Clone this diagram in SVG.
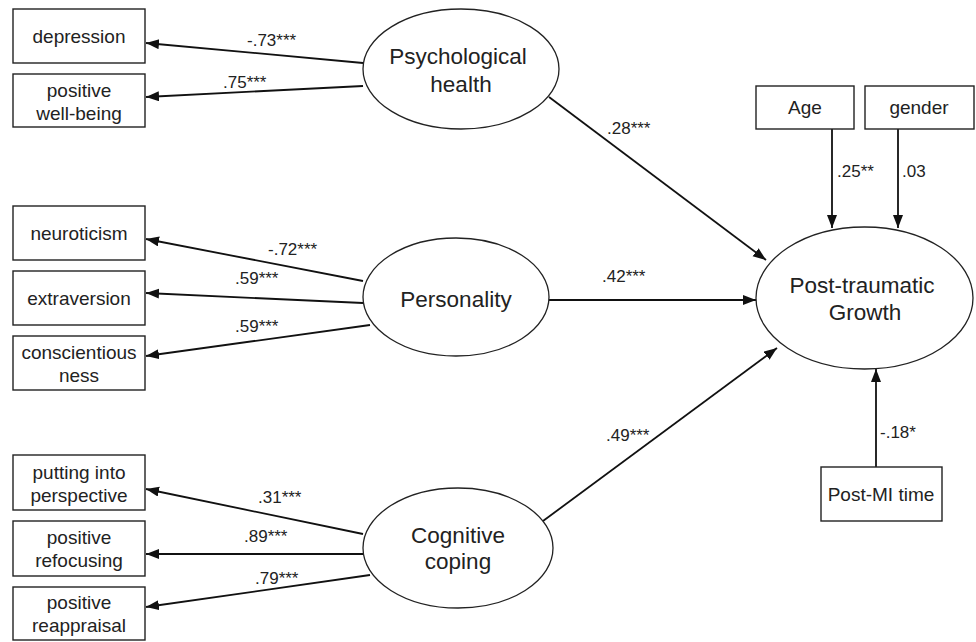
<svg xmlns="http://www.w3.org/2000/svg" width="976" height="642" viewBox="0 0 976 642">
<defs>
<marker id="ah" markerUnits="userSpaceOnUse" markerWidth="14" markerHeight="12" refX="13" refY="5" orient="auto">
<path d="M0,0 L13,5 L0,10 Z" fill="#111"/>
</marker>
<style>
.box{fill:#fff;stroke:#222;stroke-width:1.4}
.ell{fill:#fff;stroke:#222;stroke-width:1.3}
.t{font-family:"Liberation Sans",Arial,sans-serif;font-size:19px;fill:#222;text-anchor:middle}
.big{font-family:"Liberation Sans",Arial,sans-serif;font-size:22.5px;fill:#222;text-anchor:middle}
.lab{font-family:"Liberation Sans",Arial,sans-serif;font-size:17px;fill:#222}
.c{stroke:#111;stroke-width:1.8;fill:none;marker-end:url(#ah)}
</style>
</defs>
<rect width="976" height="642" fill="#fff"/>
<g id="connectors">
<line class="c" x1="363" y1="63" x2="146" y2="43"/>
<line class="c" x1="363" y1="86" x2="146" y2="97"/>
<line class="c" x1="363" y1="281" x2="146" y2="239"/>
<line class="c" x1="363" y1="303" x2="146" y2="293"/>
<line class="c" x1="370" y1="325" x2="146" y2="356"/>
<line class="c" x1="363" y1="534" x2="146" y2="489"/>
<line class="c" x1="363" y1="554" x2="146" y2="554"/>
<line class="c" x1="370" y1="575" x2="146" y2="607"/>
<line class="c" x1="549" y1="97" x2="766" y2="260"/>
<line class="c" x1="549" y1="300" x2="756" y2="300"/>
<line class="c" x1="543" y1="521" x2="777" y2="348"/>
<line class="c" x1="832" y1="129" x2="832" y2="228"/>
<line class="c" x1="898" y1="129" x2="898" y2="228"/>
<line class="c" x1="876" y1="467" x2="876" y2="369"/>
<text class="lab" x="247" y="46">-.73***</text>
<text class="lab" x="223" y="88">.75***</text>
<text class="lab" x="268" y="255">-.72***</text>
<text class="lab" x="235" y="284">.59***</text>
<text class="lab" x="235" y="332">.59***</text>
<text class="lab" x="258" y="503">.31***</text>
<text class="lab" x="244" y="542">.89***</text>
<text class="lab" x="255" y="584">.79***</text>
<text class="lab" x="607" y="134">.28***</text>
<text class="lab" x="602" y="282">.42***</text>
<text class="lab" x="606" y="441">.49***</text>
<text class="lab" x="837" y="177">.25**</text>
<text class="lab" x="902" y="177">.03</text>
<text class="lab" x="880" y="438">-.18*</text>
</g>
<g id="depression"><rect class="box" x="13" y="9" width="132" height="54"/><text class="t" x="79" y="43">depression</text></g>
<g id="wellbeing"><rect class="box" x="13" y="74" width="132" height="53"/><text class="t" x="79" y="97">positive</text><text class="t" x="79" y="120">well-being</text></g>
<g id="neuroticism"><rect class="box" x="13" y="206" width="132" height="54"/><text class="t" x="79" y="240">neuroticism</text></g>
<g id="extraversion"><rect class="box" x="13" y="271" width="132" height="54"/><text class="t" x="79" y="305">extraversion</text></g>
<g id="conscientiousness"><rect class="box" x="13" y="336" width="132" height="54"/><text class="t" x="79" y="359">conscientious</text><text class="t" x="79" y="382">ness</text></g>
<g id="perspective"><rect class="box" x="13" y="455" width="132" height="55"/><text class="t" x="79" y="479">putting into</text><text class="t" x="79" y="502">perspective</text></g>
<g id="refocusing"><rect class="box" x="13" y="521" width="132" height="55"/><text class="t" x="79" y="544">positive</text><text class="t" x="79" y="567">refocusing</text></g>
<g id="reappraisal"><rect class="box" x="13" y="587" width="132" height="53"/><text class="t" x="79" y="609">positive</text><text class="t" x="79" y="632">reappraisal</text></g>
<g id="psych"><ellipse class="ell" cx="461" cy="69" rx="98" ry="60"/><text class="big" x="458" y="64">Psychological</text><text class="big" x="461" y="92">health</text></g>
<g id="personality"><ellipse class="ell" cx="456" cy="297" rx="93" ry="59"/><text class="big" x="456" y="307">Personality</text></g>
<g id="cognitive"><ellipse class="ell" cx="458" cy="548" rx="95" ry="60"/><text class="big" x="458" y="543">Cognitive</text><text class="big" x="458" y="569">coping</text></g>
<g id="ptg"><ellipse class="ell" cx="864.5" cy="298" rx="108.5" ry="71"/><text class="big" x="862" y="293">Post-traumatic</text><text class="big" x="865" y="320">Growth</text></g>
<g id="age"><rect class="box" x="756" y="86" width="98" height="43"/><text class="t" x="805" y="114">Age</text></g>
<g id="gender"><rect class="box" x="865" y="86" width="109" height="43"/><text class="t" x="919" y="114">gender</text></g>
<g id="postmi"><rect class="box" x="821" y="467" width="121" height="54"/><text class="t" x="881" y="501">Post-MI time</text></g>
</svg>
